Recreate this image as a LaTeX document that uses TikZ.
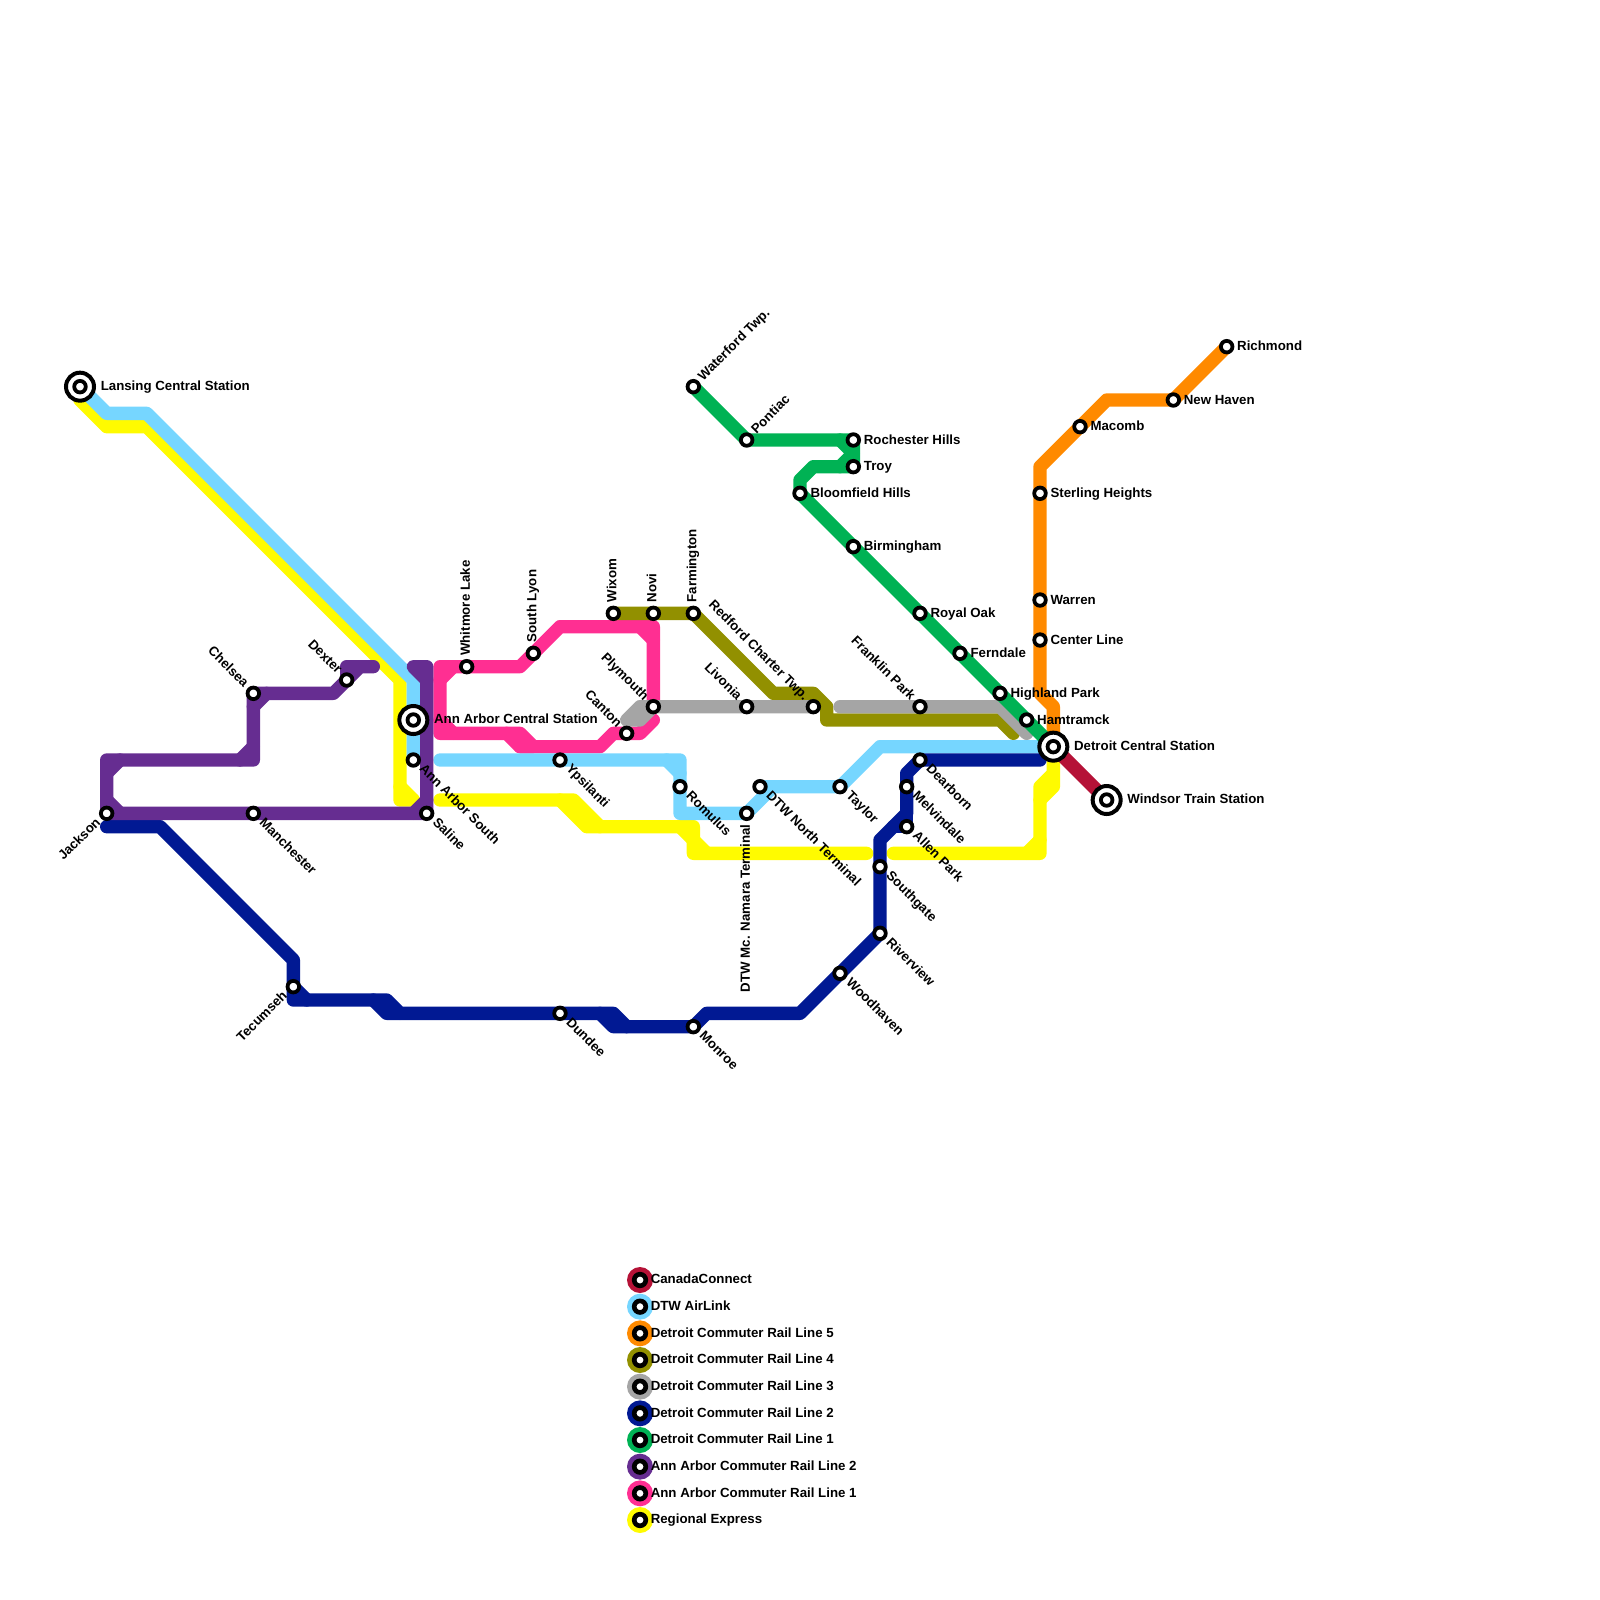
\documentclass[tikz,border=0pt]{standalone}
\usepackage{fontspec}
\setmainfont{Liberation Sans}
\usetikzlibrary{backgrounds}
\definecolor{canadacol}{HTML}{B51237}
\definecolor{airlinkcol}{HTML}{76D6FF}
\definecolor{orangecol}{HTML}{FF8A00}
\definecolor{olivecol}{HTML}{929000}
\definecolor{greycol}{HTML}{A5A5A5}
\definecolor{bluecol}{HTML}{011993}
\definecolor{greencol}{HTML}{00B254}
\definecolor{purplecol}{HTML}{662D91}
\definecolor{pinkcol}{HTML}{FF2F92}
\definecolor{yellowcol}{HTML}{FFFB00}

\begin{document}
\begin{tikzpicture}[
  x=0.3cm, y=-0.3cm,
  railline/.style={line width=0.3cm, line cap=round, line join=round},
  stn/.style={circle, draw=black, fill=white, line width=0.085cm, inner sep=0pt, minimum size=0.26cm},
  hub/.style={circle, draw=black, fill=white, line width=0.09cm, inner sep=0pt, minimum size=0.63cm,
    path picture={\draw[line width=0.085cm] (path picture bounding box.center) circle (0.13cm);}},
  keydisc/.style={circle, inner sep=0pt, minimum size=0.585cm},
  keystn/.style={stn, line width=0.105cm},
  lab/.style={font=\fontsize{8.5}{10}\selectfont\bfseries, inner sep=0pt, text=black},
  labE/.style={lab, anchor=base west, xshift=0.23cm, yshift=-0.09cm},
  labN/.style={lab, rotate=90, anchor=base west, xshift=0.24cm, yshift=-0.07cm},
  labS/.style={lab, rotate=90, anchor=base east, xshift=-0.24cm, yshift=-0.07cm},
  labNE/.style={lab, rotate=45, anchor=base west, xshift=0.24cm, yshift=-0.07cm},
  labSE/.style={lab, rotate=-45, anchor=base west, xshift=0.24cm, yshift=-0.07cm},
  labNW/.style={lab, rotate=-45, anchor=base east, xshift=-0.24cm, yshift=-0.07cm},
  labSW/.style={lab, rotate=45, anchor=base east, xshift=-0.24cm, yshift=-0.07cm},
  labhub/.style={lab, anchor=base west, xshift=0.46cm, yshift=-0.085cm}
]
\useasboundingbox (0,0) rectangle (120,120);

% interchanges
\foreach \nm/\x/\y/\txt in {lansing/6/29/Lansing Central Station, annarbor/31/54/Ann Arbor Central Station,
    detroit/79/56/Detroit Central Station, windsor/83/60/Windsor Train Station} {
  \node[hub] (\nm) at (\x,\y) {};
  \node[labhub] (\nm txt) at (\nm) {\txt};
}

% stations, by side of the label
\foreach \nm/\x/\y/\txt in {richmond/92/26/Richmond, newhaven/88/30/New Haven, macomb/81/32/Macomb,
    sterling/78/37/Sterling Heights, warren/78/45/Warren, centerline/78/48/Center Line,
    highland/75/52/Highland Park, hamtramck/77/54/Hamtramck, rochester/64/33/Rochester Hills,
    troy/64/35/Troy, bloomfield/60/37/Bloomfield Hills, birmingham/64/41/Birmingham,
    royaloak/69/46/Royal Oak, ferndale/72/49/Ferndale} {
  \node[stn] (\nm) at (\x,\y) {};
  \node[labE] (\nm txt) at (\nm) {\txt};
}
\foreach \nm/\x/\y/\txt in {whitmore/35/50/Whitmore Lake, southlyon/40/49/South Lyon, wixom/46/46/Wixom,
    novi/49/46/Novi, farmington/52/46/Farmington} {
  \node[stn] (\nm) at (\x,\y) {};
  \node[labN] (\nm txt) at (\nm) {\txt};
}
\foreach \nm/\x/\y/\txt in {waterford/52/29/Waterford Twp., pontiac/56/33/Pontiac} {
  \node[stn] (\nm) at (\x,\y) {};
  \node[labNE] (\nm txt) at (\nm) {\txt};
}
\foreach \nm/\x/\y/\txt in {manchester/19/61/Manchester, saline/32/61/Saline, aasouth/31/57/Ann Arbor South,
    ypsilanti/42/57/Ypsilanti, dundee/42/76/Dundee, monroe/52/77/Monroe, romulus/51/59/Romulus,
    northterm/57/59/DTW North Terminal, taylor/63/59/Taylor, dearborn/69/57/Dearborn,
    melvindale/68/59/Melvindale, allenpark/68/62/Allen Park, southgate/66/65/Southgate,
    riverview/66/70/Riverview, woodhaven/63/73/Woodhaven} {
  \node[stn] (\nm) at (\x,\y) {};
  \node[labSE] (\nm txt) at (\nm) {\txt};
}
\foreach \nm/\x/\y/\txt in {chelsea/19/52/Chelsea, dexter/26/51/Dexter, canton/47/55/Canton,
    plymouth/49/53/Plymouth, livonia/56/53/Livonia, redford/61/53/Redford Charter Twp.,
    franklin/69/53/Franklin Park} {
  \node[stn] (\nm) at (\x,\y) {};
  \node[labNW] (\nm txt) at (\nm) {\txt};
}
\foreach \nm/\x/\y/\txt in {jackson/8/61/Jackson, tecumseh/22/74/Tecumseh} {
  \node[stn] (\nm) at (\x,\y) {};
  \node[labSW] (\nm txt) at (\nm) {\txt};
}
\node[stn] (mcnamara) at (56,61) {};
\node[labS] (mcnamara txt) at (mcnamara) {DTW Mc. Namara Terminal};

% legend
\foreach \col/\txt [count=\i] in {canadacol/CanadaConnect, airlinkcol/DTW AirLink, orangecol/Detroit Commuter Rail Line 5,
    olivecol/Detroit Commuter Rail Line 4, greycol/Detroit Commuter Rail Line 3, bluecol/Detroit Commuter Rail Line 2,
    greencol/Detroit Commuter Rail Line 1, purplecol/Ann Arbor Commuter Rail Line 2,
    pinkcol/Ann Arbor Commuter Rail Line 1, yellowcol/Regional Express} {
  \node[keydisc, fill=\col] (key\i) at (48,94+2*\i) {};
  \node[keystn] (keystn\i) at (key\i) {};
  \node[lab, anchor=base west, xshift=0.235cm, yshift=-0.085cm] (keytxt\i) at (key\i) {\txt};
}

\begin{pgfonlayer}{background}
% Regional Express
\draw[railline, yellowcol] (lansing.center) -- (6,30) -- (8,32) -- (11,32) -- (30,51) -- (30,60) -- (31,60);
\draw[railline, yellowcol] (30,59) -- (31,60);
\draw[railline, yellowcol] (33,60) -- (43,60) -- (45,62) -- (52,62) -- (52,64) -- (65,64);
\draw[railline, yellowcol] (42,60) -- (44,62) -- (45,62);
\draw[railline, yellowcol] (51,62) -- (52,63) -- (53,64);
\draw[railline, yellowcol] (67,64) -- (78,64) -- (78,59) -- (79,58) -- (detroit.center);
\draw[railline, yellowcol] (77,64) -- (78,63);
\draw[railline, yellowcol] (78,60) -- (79,59) -- (79,58);
% Ann Arbor line 1
\draw[railline, pinkcol] (plymouth.center) -- (49,47) -- (42,47) -- (southlyon.center) -- (39,50) -- (33,50)
  -- (33,55) -- (38,55) -- (39,56) -- (45,56) -- (46,55) -- (48,55) -- (49,54);
\draw[railline, pinkcol] (48,47) -- (49,48);
\draw[railline, pinkcol] (33,51) -- (34,50);
\draw[railline, pinkcol] (33,54) -- (34,55);
\draw[railline, pinkcol] (38,55) -- (39,55) -- (40,56) -- (39,56);
% AirLink
\draw[railline, airlinkcol] (lansing.center) -- (8,31) -- (11,31) -- (31,51) -- (aasouth.center);
\draw[railline, airlinkcol] (33,57) -- (51,57) -- (51,61) -- (mcnamara.center) -- (58,59);
\draw[railline, airlinkcol] (50,57) -- (51,58);
\draw[railline, airlinkcol] (northterm.center) -- (taylor.center) -- (66,56) -- (detroit.center);
% CanadaConnect
\draw[railline, canadacol] (detroit.center) -- (windsor.center);
% Detroit lines
\draw[railline, orangecol] (richmond.center) -- (newhaven.center) -- (83,30) -- (78,35) -- (78,52) -- (79,53) -- (detroit.center);
\draw[railline, olivecol] (wixom.center) -- (farmington.center) -- (58,52) -- (61,52) -- (62,53) -- (62,54) -- (75,54) -- (76,55);
\draw[railline, greycol] (redford.center) -- (48,53) -- (47,54) -- (48,54) -- (49,53);
\draw[railline, greycol] (63,53) -- (75,53) -- (77,55);
\draw[railline, bluecol] (8,62) -- (12,62) -- (22,72) -- (22,75) -- (29,75) -- (30,76) -- (46,76) -- (47,77) -- (monroe.center)
  -- (53,76) -- (60,76) -- (riverview.center) -- (66,63) -- (68,61) -- (68,58) -- (dearborn.center) -- (78,57);
\draw[railline, bluecol] (tecumseh.center) -- (23,75);
\draw[railline, bluecol] (28,75) -- (29,76) -- (30,76);
\draw[railline, bluecol] (45,76) -- (46,77) -- (47,77);
\draw[railline, bluecol] (67,62) -- (allenpark.center) -- (68,61);
\draw[railline, greencol] (waterford.center) -- (pontiac.center) -- (rochester.center) -- (troy.center) -- (61,35) -- (60,36)
  -- (bloomfield.center) -- (detroit.center);
\draw[railline, greencol] (63,33) -- (64,34) -- (63,35);
% Ann Arbor line 2
\draw[railline, purplecol] (jackson.center) -- (8,57) -- (19,57) -- (chelsea.center) -- (25,52) -- (27,50) -- (28,50);
\draw[railline, purplecol] (dexter.center) -- (26,50) -- (27,50);
\draw[railline, purplecol] (8,58) -- (9,57);
\draw[railline, purplecol] (8,60) -- (9,61);
\draw[railline, purplecol] (18,57) -- (19,56);
\draw[railline, purplecol] (19,53) -- (20,52);
\draw[railline, purplecol] (jackson.center) -- (saline.center) -- (32,50) -- (31,50) -- (32,51);
\draw[railline, purplecol] (31,61) -- (32,60);
\end{pgfonlayer}
\end{tikzpicture}
\end{document}
